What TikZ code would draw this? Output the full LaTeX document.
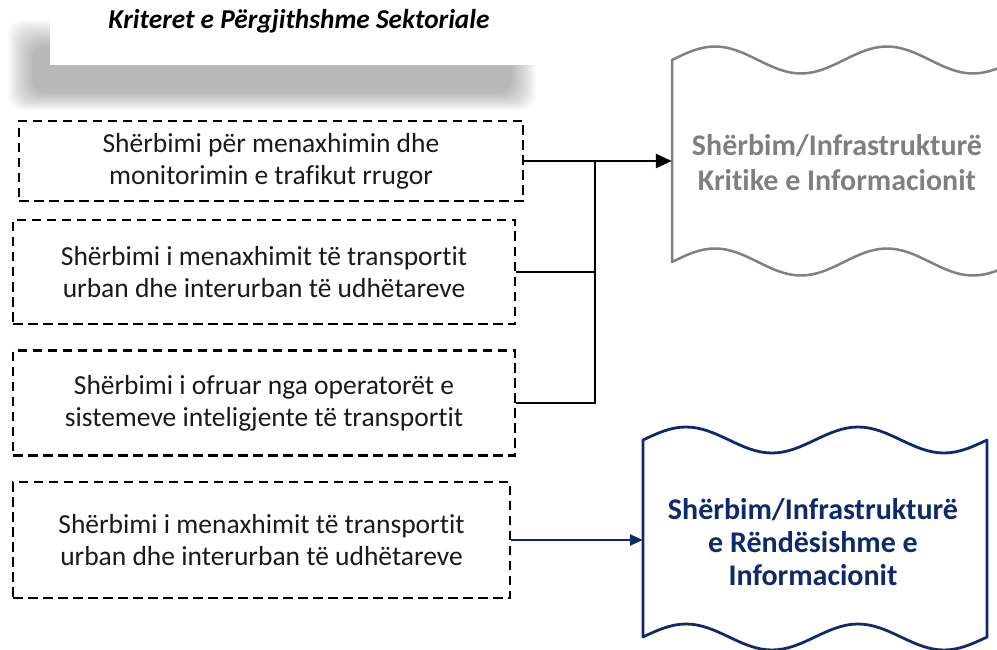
\documentclass[tikz,border=0pt]{standalone}
\usepackage{fontspec}
\setmainfont{Carlito}[Ligatures=NoCommon]
\usetikzlibrary{arrows.meta}
\definecolor{navy}{HTML}{0E2A6B}
\definecolor{greyedge}{HTML}{808080}
\definecolor{greytext}{HTML}{7F7F7F}
\definecolor{boxtext}{HTML}{1A1A1A}
\begin{document}
\begin{tikzpicture}[x=1pt,y=-1pt,
  dbox/.style={draw=black, line width=2.2pt, dash pattern=on 9.5pt off 5.5pt,
    text=boxtext, font=\fontsize{27.5}{32}\selectfont, align=center, inner sep=0pt},
  link/.style={draw=black, line width=1.9pt},
  mainarrow/.style={draw=black, line width=2.5pt, -{Triangle[length=16pt,width=14pt]}},
  bluearrow/.style={draw=navy, line width=2.8pt, -{Triangle[length=13pt,width=11pt]}},
  bodybox/.style={inner sep=0pt, minimum width=344pt},
  wavetitle/.style={font=\fontsize{30}{35}\selectfont\bfseries, align=center}
]
\useasboundingbox (0,0) rectangle (997,650);
\clip (0,0) rectangle (997,650);

% header shadow (soft)
\foreach \i in {0,...,15}{
  \fill[black, opacity=0.021, rounded corners=14pt]
    (8+1.6*\i, 20+1.7*\i) rectangle (536-1.6*\i, 110-1.1*\i);
}
\node[fill=white, inner sep=0pt, minimum width=495pt, minimum height=70pt, anchor=north west] (hdr) at (50,-5) {};
\node[font=\fontsize{27.3}{32}\selectfont\bfseries\itshape] (title) at (299,21) {Kriteret e Përgjithshme Sektoriale};

% dashed boxes
\node[dbox, minimum width=504pt, minimum height=80pt] (b1) at (271,161)
  {Shërbimi për menaxhimin dhe\\monitorimin e trafikut rrugor};
\node[dbox, minimum width=502pt, minimum height=104pt] (b2) at (264,272)
  {Shërbimi i menaxhimit të transportit\\urban dhe interurban të udhëtareve};
\node[dbox, minimum width=502pt, minimum height=105pt] (b3) at (264,403)
  {Shërbimi i ofruar nga operatorët e\\sistemeve inteligjente të transportit};
\node[dbox, minimum width=497pt, minimum height=116pt] (b4) at (261.5,540)
  {Shërbimi i menaxhimit të transportit\\urban dhe interurban të udhëtareve};

% grey wave shape
\draw[greyedge, line width=2.5pt, line join=round]
  (672,60) sin (715,46.5) cos (758,60) sin (801,73.5) cos (844,60)
  sin (887,46.5) cos (930,60) sin (973,73.5) cos (1016,60)
  -- (1016,262)
  sin (973,275.5) cos (930,262) sin (887,248.5) cos (844,262)
  sin (801,275.5) cos (758,262) sin (715,248.5) cos (672,262) -- cycle;
\node[bodybox, minimum height=200pt] (gshape) at (844,161) {};
\node[wavetitle, text=greytext] (gtext) at (837,163) {Shërbim/Infrastrukturë\\Kritike e Informacionit};

% blue wave shape
\draw[navy, line width=2.8pt, line join=round]
  (643,440) sin (686,427) cos (729,440) sin (772,453) cos (815,440)
  sin (858,427) cos (901,440) sin (944,453) cos (987,440)
  -- (987,637)
  sin (944,650) cos (901,637) sin (858,624) cos (815,637)
  sin (772,650) cos (729,637) sin (686,624) cos (643,637) -- cycle;
\node[bodybox, minimum height=197pt] (bshape) at (815,538.5) {};
\node[wavetitle, text=navy, font=\fontsize{30}{33}\selectfont\bfseries] (btext) at (813,542)
  {Shërbim/Infrastrukturë\\e Rëndësishme e\\Informacionit};

% connectors
\coordinate (j) at (595,161);
\draw[link] (b2.east) -- (b2.east -| j);
\draw[link] (b3.east) -| (j);
\draw[mainarrow] (b1.east) -- (gshape.west);
\draw[bluearrow] (b4.east) -- (b4.east -| bshape.west);
\end{tikzpicture}
\end{document}
